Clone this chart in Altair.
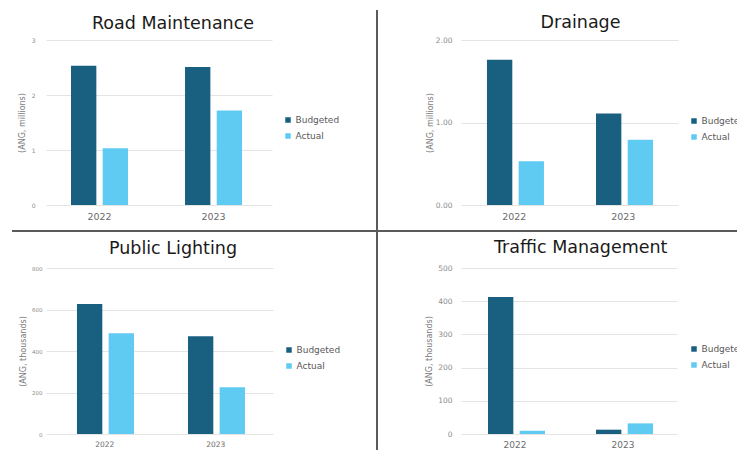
import altair as alt
import pandas as pd

FONT = "DejaVu Sans"

years = ["2022", "2023"]
series = ["Budgeted", "Actual"]
colors = ["#185F80", "#5FCBF3"]

road_budgeted = [2.53, 2.51]
road_actual = [1.03, 1.72]
drainage_budgeted = [1.76, 1.11]
drainage_actual = [0.53, 0.79]
lighting_budgeted = [626, 471]
lighting_actual = [485, 225]
traffic_budgeted = [413, 13]
traffic_actual = [10, 32]

road_ticks = [0, 1, 2, 3]
drainage_ticks = [0, 1, 2]
lighting_ticks = [0, 200, 400, 600, 800]
traffic_ticks = [0, 100, 200, 300, 400, 500]


def table(budgeted, actual):
    rows = []
    for i, y in enumerate(years):
        rows.append({"Year": y, "Series": series[0], "Value": budgeted[i]})
        rows.append({"Year": y, "Series": series[1], "Value": actual[i]})
    return pd.DataFrame(rows)


def panel(title, budgeted, actual, y_title, ticks, fmt, width, height,
          x_pad_outer, x_align, ylabel_size, xlabel_size, ylabel_pad, ytitle_pad,
          legend_x, legend_y, title_dx, title_offset):
    df = table(budgeted, actual)
    return alt.Chart(df, title=alt.Title(
        title, font=FONT, fontSize=17.5, fontWeight="normal", color="#1a1a1a",
        anchor="middle", frame="group", dx=title_dx, offset=title_offset,
        baseline="alphabetic")).mark_bar().encode(
        x=alt.X("Year:N", sort=years,
                scale=alt.Scale(paddingInner=0.5, paddingOuter=x_pad_outer, align=x_align),
                axis=alt.Axis(title=None, labelAngle=0, domain=False, ticks=False,
                              labelColor="#6b6b6b", labelFontSize=xlabel_size,
                              labelPadding=6, labelFont=FONT)),
        xOffset=alt.XOffset("Series:N", sort=series,
                            scale=alt.Scale(paddingInner=0.2, paddingOuter=0)),
        y=alt.Y("Value:Q", scale=alt.Scale(domain=[ticks[0], ticks[-1]], nice=False),
                axis=alt.Axis(values=ticks, format=fmt, grid=True, gridColor="#e4e4e4",
                              domain=False, ticks=False, labelColor="#8c8c8c",
                              labelFontSize=ylabel_size, labelPadding=ylabel_pad,
                              labelFont=FONT, title=y_title, titleColor="#7a7a7a",
                              titleFontSize=8, titleFontWeight="normal", titleFont=FONT,
                              titlePadding=ytitle_pad)),
        color=alt.Color("Series:N", sort=series,
                        scale=alt.Scale(domain=series, range=colors),
                        legend=alt.Legend(orient="none", legendX=legend_x, legendY=legend_y,
                                          title=None, symbolType="square", symbolSize=30,
                                          symbolStrokeWidth=0, labelFontSize=9,
                                          labelColor="#595959", labelFont=FONT,
                                          rowPadding=6, labelOffset=3, padding=0)),
    ).properties(width=width, height=height)


p1 = panel("Road Maintenance", road_budgeted, road_actual, "(ANG, millions)",
           road_ticks, "d", 226, 165, 0.241, 0.455, 6, 9.5, 11, 5,
           237.5, 75.5, 14, -9)
p2 = panel("Drainage", drainage_budgeted, drainage_actual, "(ANG, millions)",
           drainage_ticks, ".2f", 217, 165, 0.245, 0.486, 7.5, 9.5, 9, 1,
           228.5, 76.5, 11, -9)
p3 = panel("Public Lighting", lighting_budgeted, lighting_actual, "(ANG, thousands)",
           lighting_ticks, "d", 227, 166, 0.2725, 0.512, 5.5, 7.5, 4, 4,
           238.5, 77.5, 13.5, -5)
p4 = panel("Traffic Management", traffic_budgeted, traffic_actual, "(ANG, thousands)",
           traffic_ticks, "d", 216, 166, 0.25, 0.5, 7.5, 9, 9, 4,
           228.5, 76.5, 11.7, -6)

# separator lines, drawn from a tiny helper view placed at (46, 497)
sep = pd.DataFrame({"k": [0]})
vline = alt.Chart(sep).mark_rule(color="#5a5a5a", strokeWidth=2).encode(
    x=alt.value(331), y=alt.value(-487), y2=alt.value(-47))
hline = alt.Chart(sep).mark_rule(color="#5a5a5a", strokeWidth=2).encode(
    y=alt.value(-266), x=alt.value(-34), x2=alt.value(691))
separators = alt.layer(vline, hline).properties(width=1, height=1)

chart = alt.concat(
    p1, p2, p3, p4, separators, columns=2,
    spacing=alt.RowColnumber(row=63, column=188), bounds="flush"
).resolve_scale(color="independent").resolve_legend(color="independent").properties(
    autosize=alt.AutoSizeParams(type="none"),
    padding={"left": 46, "top": 40, "right": 691, "bottom": 410},
    background="white",
).configure_view(stroke=None)

chart.save("out.html", embed_options={"renderer": "svg", "actions": False})
